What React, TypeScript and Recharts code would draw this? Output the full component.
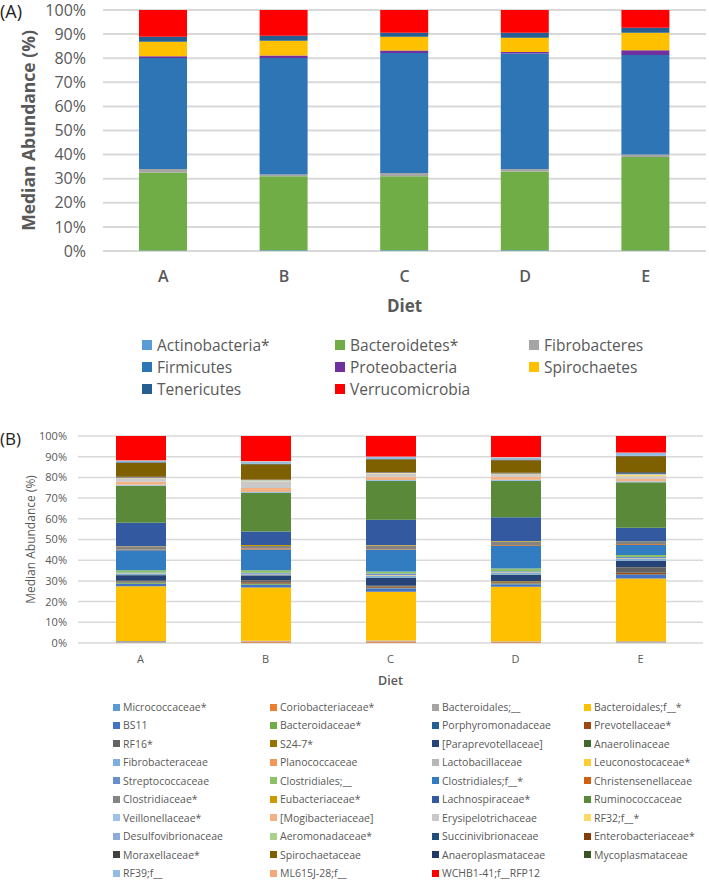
import React from "react";
import { BarChart, Bar, XAxis, YAxis, CartesianGrid, Legend } from "recharts";

const diets = ["A", "B", "C", "D", "E"];
const percentTicks = [0, 10, 20, 30, 40, 50, 60, 70, 80, 90, 100];

// (A) phylum level, median abundance (%) per diet, bottom to top
const phyla = [
  "Actinobacteria*",
  "Bacteroidetes*",
  "Fibrobacteres",
  "Firmicutes",
  "Proteobacteria",
  "Spirochaetes",
  "Tenericutes",
  "Verrucomicrobia",
];
const phylumColors = ["#5B9BD5", "#70AD47", "#A5A5A5", "#2E75B6", "#7030A0", "#FFC000", "#255E91", "#FF0000"];
const phylaDietA = [0.2, 32.4, 1.4, 46.1, 0.7, 6.0, 2.1, 11.1];
const phylaDietB = [0.3, 30.7, 0.7, 48.4, 1.0, 6.1, 2.1, 10.7];
const phylaDietC = [0.3, 30.7, 1.4, 49.8, 1.0, 5.7, 1.7, 9.4];
const phylaDietD = [0.3, 32.7, 1.0, 47.9, 0.7, 5.9, 2.1, 9.4];
const phylaDietE = [0.2, 38.8, 1.0, 41.3, 2.0, 7.3, 2.0, 7.4];

// (B) family level
const families = [
  "Micrococcaceae*", "Coriobacteriaceae*", "Bacteroidales;__", "Bacteroidales;f__*",
  "BS11", "Bacteroidaceae*", "Porphyromonadaceae", "Prevotellaceae*",
  "RF16*", "S24-7*", "[Paraprevotellaceae]", "Anaerolinaceae",
  "Fibrobacteraceae", "Planococcaceae", "Lactobacillaceae", "Leuconostocaceae*",
  "Streptococcaceae", "Clostridiales;__", "Clostridiales;f__*", "Christensenellaceae",
  "Clostridiaceae*", "Eubacteriaceae*", "Lachnospiraceae*", "Ruminococcaceae",
  "Veillonellaceae*", "[Mogibacteriaceae]", "Erysipelotrichaceae", "RF32;f__*",
  "Desulfovibrionaceae", "Aeromonadaceae*", "Succinivibrionaceae", "Enterobacteriaceae*",
  "Moraxellaceae*", "Spirochaetaceae", "Anaeroplasmataceae", "Mycoplasmataceae",
  "RF39;f__", "ML615J-28;f__", "WCHB1-41;f__RFP12",
];
const familyColors = [
  "#5B9BD5", "#ED7D31", "#A5A5A5", "#FFC000",
  "#4472C4", "#70AD47", "#255E91", "#9E480E",
  "#636363", "#997300", "#264478", "#43682B",
  "#7CAFDD", "#F1975A", "#B7B7B7", "#FFCD33",
  "#698ED0", "#8CC168", "#327DC2", "#D26012",
  "#848484", "#CC9A00", "#335AA1", "#5A8A39",
  "#9DC3E6", "#F4B183", "#C9C9C9", "#FFD966",
  "#8FAADC", "#A9D18E", "#1F4E79", "#843C0C",
  "#404040", "#7F6000", "#203864", "#375623",
  "#94BCE3", "#F3A77A", "#FF0000",
];
const familiesDietA = [0.1, 0.1, 0.8, 26.4, 1.2, 0.5, 0.3, 0.2, 0.2, 0.3, 2.6, 0.1, 0.6, 0.1, 0.1, 0.1, 0.4, 1.1, 9.6, 0.3, 1.6, 0.2, 11.2, 17.9, 0.4, 1.5, 1.7, 0.1, 0.2, 0.1, 0.1, 0.1, 0.1, 6.7, 0.2, 0.1, 0.8, 0.2, 11.7];
const familiesDietB = [0.1, 0.6, 0.4, 25.7, 1.4, 0.3, 0.3, 0.5, 0.6, 0.3, 2.4, 0.1, 0.5, 0.1, 0.1, 0.1, 0.4, 1.3, 10.0, 0.4, 1.2, 0.5, 6.6, 18.6, 0.5, 1.9, 3.3, 0.2, 0.2, 0.1, 0.1, 0.1, 0.1, 7.4, 0.1, 0.1, 1.1, 0.2, 12.1];
const familiesDietC = [0.1, 0.6, 0.5, 23.6, 1.5, 0.2, 0.2, 0.6, 0.2, 0.2, 3.8, 0.1, 0.9, 0.1, 0.1, 0.1, 0.8, 1.0, 10.4, 0.3, 1.8, 0.2, 12.2, 18.8, 0.4, 1.6, 1.6, 0.2, 0.1, 0.1, 0.1, 0.1, 0.1, 6.0, 0.2, 0.1, 1.0, 0.2, 9.9];
const familiesDietD = [0.1, 0.5, 0.3, 26.3, 1.2, 0.3, 0.2, 0.5, 0.3, 0.3, 3.0, 0.1, 0.8, 0.1, 0.1, 0.1, 0.5, 1.3, 10.8, 0.4, 1.8, 0.3, 11.4, 17.6, 0.6, 1.4, 1.2, 0.2, 0.1, 0.1, 0.1, 0.1, 0.1, 6.1, 0.2, 0.1, 1.0, 0.2, 10.2];
const familiesDietE = [0.1, 0.2, 0.6, 30.3, 1.6, 0.2, 0.2, 0.7, 2.3, 0.3, 3.1, 0.1, 0.9, 0.1, 0.1, 0.1, 0.6, 1.0, 5.0, 0.3, 1.0, 0.2, 6.7, 21.9, 0.6, 1.1, 1.2, 0.9, 0.2, 0.2, 0.3, 0.2, 0.3, 7.6, 0.2, 0.1, 1.3, 0.2, 8.0];

const phylumRows = [phylaDietA, phylaDietB, phylaDietC, phylaDietD, phylaDietE];
const familyRows = [familiesDietA, familiesDietB, familiesDietC, familiesDietD, familiesDietE];

const phylumData = diets.map((diet, i) => {
  const row: Record<string, any> = { diet };
  phyla.forEach((_, j) => (row[`p${j}`] = phylumRows[i][j]));
  return row;
});
const familyData = diets.map((diet, i) => {
  const row: Record<string, any> = { diet };
  families.forEach((_, j) => (row[`f${j}`] = familyRows[i][j]));
  return row;
});

const GREY = "#595959";
const GRID = "#D9D9D9";

const VerticalTitle = (props: any) => {
  const { viewBox, titleX, text, size, weight } = props;
  const cy = viewBox.y + viewBox.height / 2;
  return (
    <text
      x={titleX}
      y={cy}
      transform={`rotate(-90 ${titleX} ${cy})`}
      textAnchor="middle"
      dominantBaseline="central"
      fontSize={size}
      fontWeight={weight}
      fill={GREY}
    >
      {text}
    </text>
  );
};

const HorizontalTitle = (props: any) => {
  const { viewBox, gap, text, size, weight } = props;
  const cx = viewBox.x + viewBox.width / 2;
  return (
    <text x={cx} y={viewBox.y + gap} textAnchor="middle" dominantBaseline="central" fontSize={size} fontWeight={weight} fill={GREY}>
      {text}
    </text>
  );
};

const PhylumLegend = () => {
  const cols = [142, 335, 529];
  const rows = [9, 31, 53];
  return (
    <div style={{ position: "relative", width: 709, height: 62 }}>
      {phyla.map((name, i) => (
        <div
          key={name}
          style={{
            position: "absolute",
            left: cols[i % 3],
            top: rows[Math.floor(i / 3)] - 9,
            height: 18,
            lineHeight: "18px",
            display: "flex",
            alignItems: "center",
            fontSize: 15.5,
            color: GREY,
            whiteSpace: "nowrap",
          }}
        >
          <span style={{ width: 10, height: 10, background: phylumColors[i], marginRight: 5, display: "inline-block" }} />
          {name}
        </div>
      ))}
    </div>
  );
};

const FamilyLegend = () => {
  const cols = [113, 270, 432, 584];
  return (
    <div style={{ position: "relative", width: 709, height: 184 }}>
      {families.map((name, i) => (
        <div
          key={name}
          style={{
            position: "absolute",
            left: cols[i % 4],
            top: 9 + Math.floor(i / 4) * 18.45 - 7,
            height: 14,
            lineHeight: "14px",
            display: "flex",
            alignItems: "center",
            fontSize: 10.5,
            color: GREY,
            whiteSpace: "nowrap",
          }}
        >
          <span style={{ width: 7, height: 7, background: familyColors[i], marginRight: 3, display: "inline-block" }} />
          {name}
        </div>
      ))}
    </div>
  );
};

export default function App() {
  return (
    <div
      style={{
        position: "absolute",
        left: 0,
        top: 0,
        width: 709,
        height: 884,
        background: "#fff",
        fontFamily: '"Open Sans", sans-serif',
      }}
    >
      <BarChart width={709} height={400} data={phylumData} margin={{ top: 10, right: 3, bottom: 2, left: 0 }}>
        <CartesianGrid vertical={false} stroke={GRID} strokeWidth={2} />
        <XAxis
          dataKey="diet"
          height={85}
          axisLine={false}
          tickLine={false}
          tickSize={0}
          tickMargin={20}
          tick={{ fontSize: 16, fill: GREY, fontWeight: 600 }}
          label={<HorizontalTitle gap={54} text="Diet" size={17} weight={700} />}
        />
        <YAxis
          width={103}
          domain={[0, 100]}
          allowDataOverflow
          ticks={percentTicks}
          interval={0}
          axisLine={false}
          tickLine={false}
          tickSize={0}
          tickMargin={17}
          tickFormatter={(v) => `${v}%`}
          tick={{ fontSize: 16, fill: GREY }}
          label={<VerticalTitle titleX={28} text="Median Abundance (%)" size={17.5} weight={700} />}
        />
        <Legend verticalAlign="bottom" wrapperStyle={{ left: 0, width: 709 }} content={() => <PhylumLegend />} />
        {phyla.map((name, j) => (
          <Bar key={name} dataKey={`p${j}`} name={name} stackId="phyla" fill={phylumColors[j]} barSize={48} isAnimationActive={false} />
        ))}
      </BarChart>

      <BarChart width={709} height={484} data={familyData} margin={{ top: 36, right: 6, bottom: 2, left: 0 }}>
        <CartesianGrid vertical={false} stroke={GRID} strokeWidth={1.5} />
        <XAxis
          dataKey="diet"
          height={55}
          axisLine={false}
          tickLine={false}
          tickSize={0}
          tickMargin={12}
          tick={{ fontSize: 11, fill: GREY }}
          label={<HorizontalTitle gap={37} text="Diet" size={12.5} weight={600} />}
        />
        <YAxis
          width={78}
          domain={[0, 100]}
          allowDataOverflow
          ticks={percentTicks}
          interval={0}
          axisLine={false}
          tickLine={false}
          tickSize={0}
          tickMargin={11}
          tickFormatter={(v) => `${v}%`}
          tick={{ fontSize: 11, fill: GREY }}
          label={<VerticalTitle titleX={30} text="Median Abundance (%)" size={12} weight={400} />}
        />
        <Legend verticalAlign="bottom" wrapperStyle={{ left: 0, width: 709 }} content={() => <FamilyLegend />} />
        {families.map((name, j) => (
          <Bar key={name} dataKey={`f${j}`} name={name} stackId="families" fill={familyColors[j]} barSize={50} isAnimationActive={false} />
        ))}
      </BarChart>

      <div style={{ position: "absolute", left: 0, top: 0, fontSize: 18, lineHeight: "22px", color: "#222" }}>(A)</div>
      <div style={{ position: "absolute", left: 0, top: 428, fontSize: 17, lineHeight: "22px", color: "#222" }}>(B)</div>
    </div>
  );
}
